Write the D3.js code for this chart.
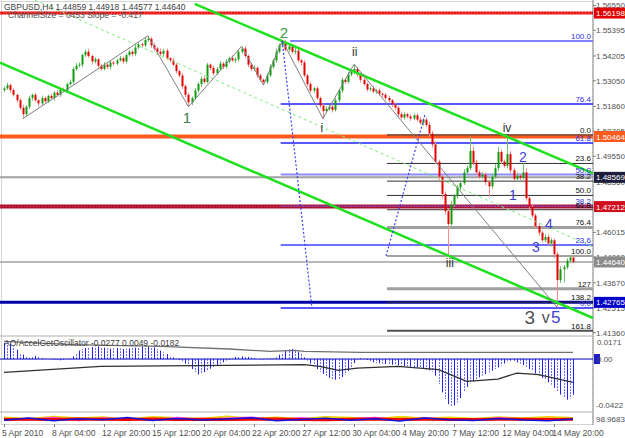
<!DOCTYPE html>
<html><head><meta charset="utf-8">
<script src="https://cdn.jsdelivr.net/npm/d3@7/dist/d3.min.js"></script>
<style>body{margin:0;background:#fff;overflow:hidden}svg{display:block}text{font-family:"Liberation Sans",Arial,sans-serif}</style>
</head><body><svg id="c" width="625" height="438"></svg>
<script>
// ---------- DATA ----------
const firstOpen = 15262; // pips (1e-4)
const closes = [
15270,15285,15262,15240,15215,15180,15150,15185,15225,15240,
15215,15200,15225,15210,15235,15225,15250,15240,15265,15260,
15290,15300,15360,15375,15380,15425,15440,15420,15395,15405,
15375,15360,15380,15370,15390,15385,15400,15410,15395,15425,
15440,15430,15460,15475,15470,15495,15500,15470,15455,15440,
15430,15445,15410,15400,15380,15350,15330,15280,15240,15205,
15225,15260,15290,15315,15300,15380,15365,15340,15360,15385,
15370,15395,15410,15400,15405,15440,15455,15420,15380,15360,
15365,15330,15310,15300,15330,15370,15400,15440,15470,15480,
15450,15465,15440,15445,15400,15390,15330,15290,15260,15270,
15225,15190,15165,15175,15185,15170,15215,15260,15310,15300,
15335,15345,15360,15335,15310,15290,15265,15270,15255,15260,
15245,15240,15225,15215,15195,15180,15150,15135,15150,15140,
15130,15145,15125,15110,15125,15100,15060,15010,14930,14860,
14780,14700,14640,14730,14770,14810,14830,14880,14900,14980,
14925,14880,14860,14870,14835,14815,14860,14900,14975,14930,
14910,14965,14890,14850,14865,14855,14880,14760,14720,14680,
14630,14600,14565,14580,14550,14565,14500,14380,14430,14440,
14470,14485,14464];
const upWick = [
8,12,6,10,5,9,14,7,11,6, 9,5,12,8,6,10,7,13,5,9, 6,11,8,12,10,6,9,14,7,10,
5,9,12,6,10,8,7,11,9,6, 10,7,12,9,8,11,14,9,12,7, 15,8,10,6,12,9,7,11,8,10,
7,12,9,10,14,8,6,11,9,12, 8,10,7,13,9,10,10,12,8,9, 11,7,9,6,10,12,8,14,9,12,
15,10,8,12,9,7,11,8,10,6, 9,7,10,12,8,9,11,7,10,8, 12,9,22,10,8,11,7,9,12,8,
10,7,9,11,6,10,8,12,9,7, 10,9,8,12,7,10,14,12,15,9, 10,12,14,18,10,12,9,15,12,65,
20,14,10,12,9,11,15,18,22,12, 10,85,14,12,15,10,45,18,10,12, 9,14,10,12,15,10,8,12,15,10,
12,9,7];
const dnWick = [
10,7,12,8,11,9,21,8,10,12, 7,14,9,11,8,6,12,9,10,8, 9,6,11,8,7,12,10,8,14,9,
11,8,7,10,12,9,8,6,11,10, 8,12,9,7,10,8,9,12,10,11, 9,12,8,10,7,11,9,13,10,20,
12,8,10,14,9,7,12,10,8,9, 11,8,9,7,12,10,9,8,11,10, 9,12,8,15,10,7,9,11,8,10,
8,11,9,12,10,14,9,11,10,12, 8,12,35,10,9,12,8,10,11,9, 8,10,9,11,12,8,10,9,7,11,
9,12,8,10,11,9,12,8,10,9, 11,8,10,9,12,10,14,15,12,18, 20,16,152,15,10,12,14,9,11,10,
12,14,11,10,15,48,12,10,14,11, 9,12,15,10,14,11,9,12,15,10, 12,14,10,11,9,15,18,128,14,62,
10,12,6];

const timeLabels = ["5 Apr 2010","8 Apr 04:00","12 Apr 20:00","15 Apr 12:00","20 Apr 04:00","22 Apr 20:00","27 Apr 12:00","30 Apr 04:00","4 May 20:00","7 May 12:00","12 May 04:00","14 May 20:00"];
const timeLabelBars = [0,16,32,48,64,80,96,112,128,144,160,176];
const priceTicks = [1.56550,1.55395,1.54205,1.53050,1.51860,1.50705,1.49550,1.48360,1.47170,1.46015,1.44860,1.43670,1.42515,1.41360];
const markerPrices = [1.56198,1.50464,1.48569,1.47212,1.44640,1.42765];

const blueFibLevels = [0,23.6,38.2,50,61.8,76.4,100];
const blueFibLow = 1.4250, blueFibHigh = 1.5490;
const blackFibLevels = [0,23.6,38.2,50,61.8,76.4,100,127,138.2,161.8];
const blackFibZero = 1.5054, blackFibHundred = 1.4492;

const zigBars = [6,46,59,76,83,89,102,112,177];
const zigPrices = [1.5129,1.5514,1.5185,1.5465,1.5285,1.5492,1.5130,1.5382,1.4252];

const greenUpper = [[61,1.5662],[188.4,1.4876]];
const greenLower = [[-1.3,1.5390],[188.4,1.4204]];
const greenMid = [[9.9,1.5680],[188.4,1.4534]];
const blueDotA = [[89,1.5490],[98.5,1.4250]];
const blueDotB = [[122.2,1.4492],[134.6,1.5146]];

const waveText = ['1','2','i','ii','iii','iv','1','2','3','4','3','v','5'];
const waveBar = [58.5,89.5,101.7,112.2,142.6,160.9,162.8,166,170.1,174.3,168.2,173.3,176.5];
const wavePrice = [1.51325,1.55317,1.5086,1.54389,1.44593,1.5086,1.4775,1.49514,1.45336,1.46404,1.4204,1.4204,1.4204];

const oscValues = [ // 1e-4
144,150,138,114,84,54,39,24,9,18, 30,18,6,3,0,-3,-6,-9,-12,-9,
-3,6,24,54,75,90,99,105,108,114, 114,108,102,96,93,96,99,96,90,93,
96,99,102,105,108,111,114,111,105,90, 75,60,45,30,15,3,-9,-24,-42,-66,
-90,-117,-138,-132,-117,-99,-87,-72,-60,-45, -30,-15,-6,6,18,24,24,21,18,15,
6,0,-3,-6,3,9,6,18,39,57, 72,87,90,81,69,45,15,-15,-42,-66,
-90,-114,-135,-156,-171,-180,-186,-180,-162,-138, -108,-72,-36,-6,6,3,-9,-21,-30,-36,
-39,-42,-45,-48,-51,-54,-57,-60,-63,-66, -69,-72,-75,-81,-90,-96,-102,-114,-150,-225,
-300,-360,-405,-422,-418,-390,-350,-290,-250,-220, -200,-180,-165,-150,-135,-120,-105,-90,-75,-60,
-40,-20,-15,-20,-30,-40,-55,-70,-90,-110, -130,-150,-170,-190,-210,-230,-260,-290,-320,-345,
-366,-355,-320];
const envUpper = [[0,159],[22,129],[50,114],[72,90],[85,69],[93,78],[96,69],[114,60],[182,60]];
const envLower = [[0,-120],[22,-81],[31,-66],[96,-51],[101,-66],[107,-102],[113,-81],[126,-66],[139,-96],[148,-201],[158,-180],[164,-126],[171,-141],[182,-210]];
const oscTicks = [0.0171,0,-0.0422];

const stripRed = [40,42,38,45,41,39,44,40,43,38,42,45,40,37,41,44,39,42,40,38,43,41,39,42];
const stripBlue = [30,55,25,48,35,60,28,50,33,45,58,26,40,52,30,47,22,55,36,28,50,34,25,45];
const stripYellow = [60,45,70,52,65,40,68,55,48,72,50,62,45,66,58,42,70,50,60,47,64,52,68,55];
const stripMagenta = [50,35,62,28,55,45,30,60,38,52,65,33,58,40,48,62,35,55,45,30,58,42,50,38];

// ---------- SCALES ----------
const N = closes.length;
const plotR = 593;
const x = d3.scaleLinear().domain([0, N-1]).range([4, 573]);
const y = d3.scaleLinear().domain([1.4125, 1.5671]).range([335, 2]);
const yo = d3.scaleLinear().domain([-0.0422, 0.0171]).range([406, 340]);
const ys = d3.scaleLinear().domain([0, 100]).range([423, 414]);
const FS = '8px';

const svg = d3.select('#c');
const defs = svg.append('defs');
defs.append('clipPath').attr('id','cm').append('rect').attr('x',0).attr('y',0).attr('width',plotR).attr('height',335);
defs.append('clipPath').attr('id','co').append('rect').attr('x',0).attr('y',337).attr('width',plotR).attr('height',74);
defs.append('clipPath').attr('id','cs').append('rect').attr('x',0).attr('y',413).attr('width',plotR).attr('height',11);

svg.append('rect').attr('width',625).attr('height',438).attr('fill','#fff');

// frame
svg.append('rect').attr('x',1.5).attr('y',1.5).attr('width',plotR-1.5).attr('height',423)
  .attr('fill','none').attr('stroke','#a8a8a8').attr('stroke-dasharray','1,1');
svg.append('line').attr('x1',plotR).attr('x2',plotR).attr('y1',0).attr('y2',425).attr('stroke','#909090');
[336,412].forEach(v=>svg.append('line').attr('x1',0).attr('x2',plotR).attr('y1',v).attr('y2',v).attr('stroke','#b0b0b0'));

const gM = svg.append('g').attr('clip-path','url(#cm)');
const line = d3.line().x(d=>x(d[0])).y(d=>y(d[1]));

// horizontal marker lines
const markerStyle = [
 {lc:'#e81414',w:3,box:'#e00000'},
 {lc:'#ff5a1e',w:4,box:'#ff5a1e'},
 {lc:'#a0a0a0',w:2,box:'#1e1e3c'},
 {lc:'#b0102c',w:4,box:'#d01020'},
 {lc:'#a0a0a0',w:1.5,box:'#8c8c8c'},
 {lc:'#0000a8',w:3,box:'#0000c8'}];
markerPrices.forEach((p,k)=>{
  gM.append('line').attr('x1',0).attr('x2',plotR).attr('y1',y(p)).attr('y2',y(p))
    .attr('stroke',markerStyle[k].lc).attr('stroke-width',markerStyle[k].w);
});
[0,3].forEach(k=>{
  gM.append('line').attr('x1',0).attr('x2',plotR).attr('y1',y(markerPrices[k])).attr('y2',y(markerPrices[k]))
    .attr('stroke', k===0?'#ff7070':'#d04060').attr('stroke-width',1).attr('stroke-dasharray','1,2');
});

// blue fib
const blueStyle = {0:['#2020ff',1.5,null],23.6:['#4040ff',1.5,null],38.2:['#6060ff',1,'2,1'],50:['#8c8cff',2,null],61.8:['#2020ff',1.5,null],76.4:['#2020ff',1.5,null],100:['#8080ff',2,null]};
blueFibLevels.forEach(l=>{
  const p = blueFibLow + l/100*(blueFibHigh-blueFibLow);
  const st = blueStyle[l];
  gM.append('line').attr('x1', x(l===100?91.5:88.5)).attr('x2',plotR).attr('y1',y(p)).attr('y2',y(p))
    .attr('stroke',st[0]).attr('stroke-width',st[1]).attr('stroke-dasharray',st[2]);
  svg.append('text').attr('x',591).attr('y',y(p)-2).attr('text-anchor','end').attr('font-size',FS)
    .attr('fill','#3030e0').text(l.toFixed(1));
});
// black fib
const blackStyle = {76.4:['#a0a0a0',3],100:['#a0a0a0',2],127:['#a0a0a0',3],161.8:['#505050',2]};
blackFibLevels.forEach(l=>{
  const p = blackFibZero - l/100*(blackFibZero-blackFibHundred);
  const st = blackStyle[l] || ['#303030',1];
  gM.append('line').attr('x1', x(122.5)).attr('x2',plotR).attr('y1',y(p)).attr('y2',y(p))
    .attr('stroke',st[0]).attr('stroke-width',st[1]);
  svg.append('text').attr('x',591).attr('y',y(p)-2).attr('text-anchor','end').attr('font-size',FS)
    .attr('fill','#101010').text(l===127 ? '127' : l.toFixed(1));
});

// candles
const candles = closes.map((c,i)=>{
  const o = i? closes[i-1] : firstOpen;
  return {i, o:o/1e4, c:c/1e4, h:(Math.max(o,c)+upWick[i])/1e4, l:(Math.min(o,c)-dnWick[i])/1e4, up:c>=o};
});
const gC = gM.append('g');
gC.selectAll('line.w').data(candles).join('line')
  .attr('x1',d=>Math.round(x(d.i))+0.5).attr('x2',d=>Math.round(x(d.i))+0.5)
  .attr('y1',d=>y(d.h)).attr('y2',d=>y(d.l))
  .attr('stroke',d=>d.up?'#70c070':'#ff8a8a').attr('stroke-width',1);
gC.selectAll('rect.b').data(candles).join('rect')
  .attr('x',d=>Math.round(x(d.i))-0.5).attr('width',2)
  .attr('y',d=>y(Math.max(d.o,d.c))).attr('height',d=>Math.max(1,y(Math.min(d.o,d.c))-y(Math.max(d.o,d.c))))
  .attr('fill',d=>d.up?'#109a10':'#e40000');

// green channels
gM.append('path').attr('d',line(greenMid)).attr('fill','none').attr('stroke','#7cf07c').attr('stroke-width',1).attr('stroke-dasharray','3,3');
[greenUpper,greenLower].forEach(g=>gM.append('path').attr('d',line(g)).attr('fill','none').attr('stroke','#1ee01e').attr('stroke-width',2.5));

// zigzag
gM.append('path').attr('d',line(zigBars.map((b,k)=>[b,zigPrices[k]]))).attr('fill','none').attr('stroke','#808080').attr('stroke-width',1);
// blue dotted
[blueDotA,blueDotB].forEach(g=>gM.append('path').attr('d',line(g)).attr('fill','none').attr('stroke','#3c3cff').attr('stroke-width',1.2).attr('stroke-dasharray','2,2'));

// wave labels
const waveStyle = [
 ['#3c7c3c',15],['#3c9c3c',15],['#303030',12],['#303030',12],['#303030',12],['#303030',12],
 ['#4040d0',14],['#4040d0',14],['#4040d0',14],['#4040d0',14],['#505050',19],['#505050',16],['#4040d0',17]];
waveText.forEach((t,k)=>{
  svg.append('text').attr('x',x(waveBar[k])).attr('y',y(wavePrice[k])).attr('text-anchor','middle')
    .attr('dominant-baseline','central').attr('font-size',waveStyle[k][1]+'px').attr('fill',waveStyle[k][0]).text(t);
});

// header text
svg.append('text').attr('x',4).attr('y',10).attr('font-size','8.5px').attr('fill','#404040').text('GBPUSD,H4  1.44859 1.44918 1.44577 1.44640');
svg.append('text').attr('x',8).attr('y',18).attr('font-size','8.5px').attr('fill','#505050').text('ChannelSize = 0453  Slope = -0.417');

// price axis
priceTicks.forEach(p=>{
  svg.append('line').attr('x1',plotR).attr('x2',plotR+3).attr('y1',y(p)).attr('y2',y(p)).attr('stroke','#808080');
  svg.append('text').attr('x',596).attr('y',y(p)+3).attr('font-size',FS).attr('fill','#505050').text(p.toFixed(5));
});
markerPrices.forEach((p,k)=>{
  svg.append('rect').attr('x',plotR+1).attr('y',y(p)-5.5).attr('width',32).attr('height',11).attr('fill',markerStyle[k].box);
  svg.append('text').attr('x',596).attr('y',y(p)+3).attr('font-size',FS).attr('fill','#fff').text(p.toFixed(5));
});

// oscillator pane
const gO = svg.append('g').attr('clip-path','url(#co)');
gO.selectAll('line.h').data(oscValues).join('line')
  .attr('x1',(d,i)=>Math.round(x(i))+0.5).attr('x2',(d,i)=>Math.round(x(i))+0.5)
  .attr('y1',yo(0)).attr('y2',d=>yo(d/1e4))
  .attr('stroke',(d,i)=>i%2?'#6c6cff':'#2020ff').attr('stroke-width',1)
  .attr('stroke-dasharray',(d,i)=>i%2?'2,1':null);
gO.append('line').attr('x1',0).attr('x2',plotR).attr('y1',yo(0)).attr('y2',yo(0)).attr('stroke','#0000c0');
const lo = d3.line().x(d=>x(d[0])).y(d=>yo(d[1]/1e4));
gO.append('path').attr('d',lo(envUpper)).attr('fill','none').attr('stroke','#707070').attr('stroke-width',1.3);
gO.append('path').attr('d',lo(envLower)).attr('fill','none').attr('stroke','#303030').attr('stroke-width',1.3);
svg.append('text').attr('x',4).attr('y',346).attr('font-size','8.5px').attr('fill','#404040').text('AO/AccelGetOscillator -0.0277 0.0049 -0.0182');
svg.append('text').attr('x',597).attr('y',yo(oscTicks[0])+5).attr('font-size',FS).attr('fill','#505050').text('0.0171');
svg.append('rect').attr('x',594).attr('y',yo(0)-5).attr('width',6).attr('height',10).attr('fill','#1e1ec8');
svg.append('text').attr('x',597).attr('y',yo(0)+3).attr('font-size',FS).attr('fill','#505050').text('0.00');
svg.append('text').attr('x',596).attr('y',yo(oscTicks[2])+2).attr('font-size',FS).attr('fill','#505050').text('-0.0422');

// bottom strip pane
const gS = svg.append('g').attr('clip-path','url(#cs)');
const xs = d3.scaleLinear().domain([0, stripRed.length-1]).range([x(0), x(N-1)]);
const ls = d3.line().x((d,i)=>xs(i)).y(d=>ys(d));
gS.append('path').attr('d',ls(stripYellow)).attr('fill','none').attr('stroke','#f0d000').attr('stroke-width',2);
gS.append('path').attr('d',ls(stripMagenta)).attr('fill','none').attr('stroke','#ff40ff').attr('stroke-width',1.5);
gS.append('path').attr('d',ls(stripRed)).attr('fill','none').attr('stroke','#f00000').attr('stroke-width',3);
gS.append('path').attr('d',ls(stripBlue)).attr('fill','none').attr('stroke','#1010e0').attr('stroke-width',1.5);
svg.append('text').attr('x',596).attr('y',422).attr('font-size',FS).attr('fill','#505050').text('98.9683');

// time axis
timeLabelBars.forEach((b,k)=>{
  svg.append('line').attr('x1',Math.round(x(b))+0.5).attr('x2',Math.round(x(b))+0.5).attr('y1',424).attr('y2',427).attr('stroke','#808080');
  svg.append('text').attr('x',x(b)-2).attr('y',436).attr('font-size','8.5px').attr('fill','#505050').text(timeLabels[k]);
});
</script></body></html>
